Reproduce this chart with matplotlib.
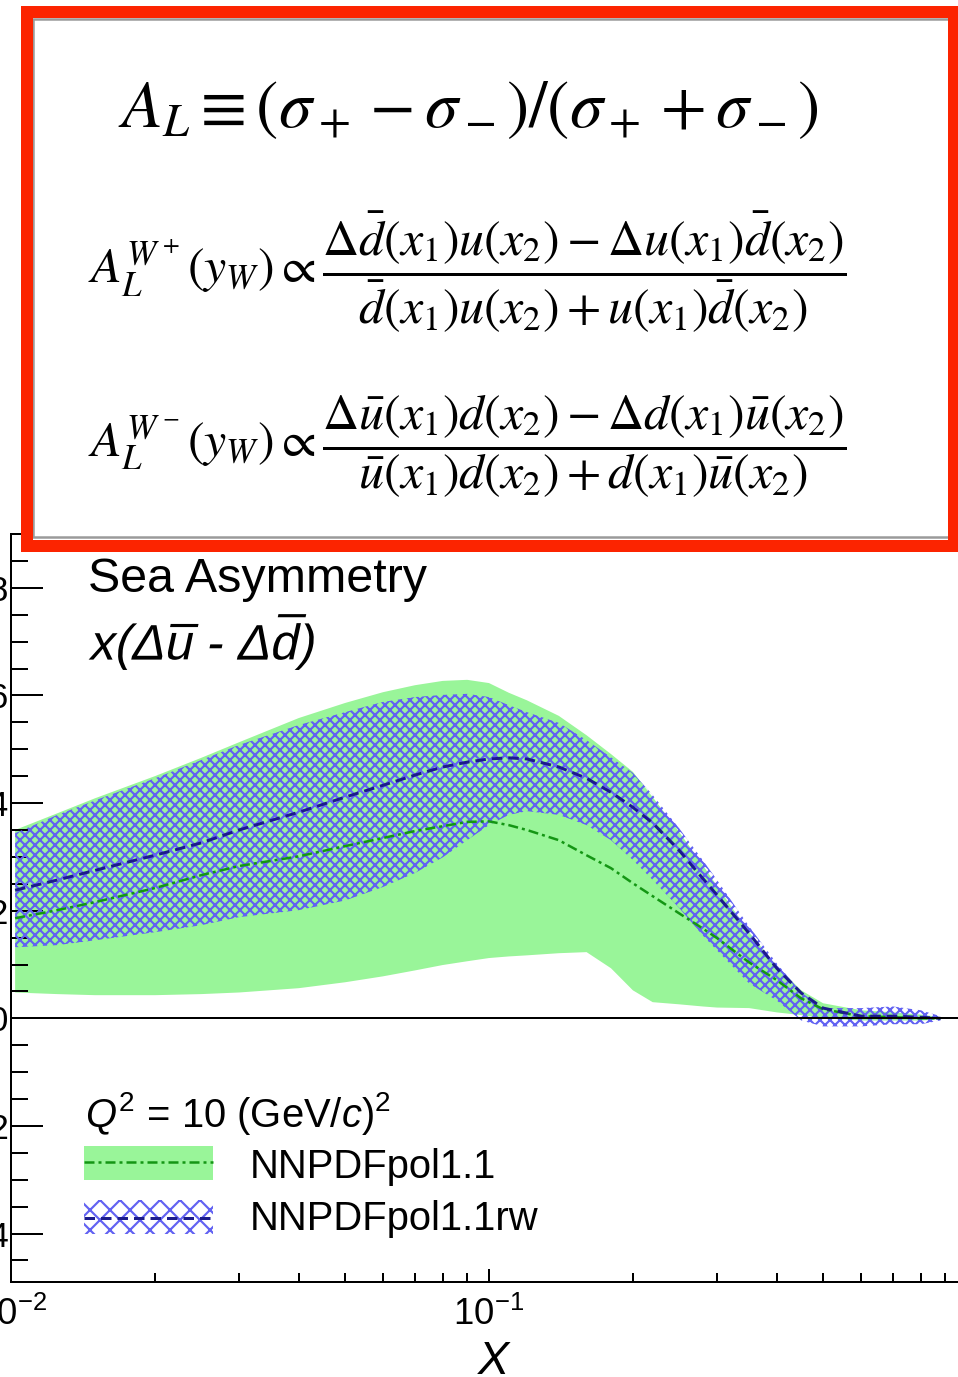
import numpy as np
import matplotlib
matplotlib.use("Agg")
import matplotlib.pyplot as plt
from matplotlib.patches import Rectangle, PathPatch
from matplotlib.lines import Line2D
from matplotlib.textpath import TextPath
from matplotlib.transforms import Affine2D
from matplotlib.ticker import LogLocator, MultipleLocator, FixedLocator

plt.rcParams['font.family'] = ['Liberation Sans', 'DejaVu Sans']
plt.rcParams['mathtext.fontset'] = 'custom'
plt.rcParams['mathtext.rm'] = 'Liberation Sans'
plt.rcParams['mathtext.it'] = 'Liberation Sans:italic'
plt.rcParams['mathtext.bf'] = 'Liberation Sans:bold'
plt.rcParams['hatch.linewidth'] = 1.3

# x(Δubar - Δdbar) at Q^2 = 10 GeV^2
x = [0.0102, 0.0125, 0.015, 0.02, 0.025, 0.03, 0.04, 0.05, 0.06, 0.07, 0.08, 0.09,
     0.1, 0.11, 0.12, 0.14, 0.16, 0.18, 0.2, 0.22, 0.25, 0.28, 0.3, 0.35, 0.4,
     0.45, 0.5, 0.6, 0.7, 0.8, 0.88]

# NNPDFpol1.1
pol_central = [0.0186, 0.0201, 0.0216, 0.0242, 0.0266, 0.0283, 0.0301, 0.0320, 0.0335,
               0.0348, 0.0357, 0.0365, 0.0366, 0.0359, 0.0350, 0.0331, 0.0303, 0.0279,
               0.0251, 0.0227, 0.0195, 0.0167, 0.0149, 0.0104, 0.0071, 0.0037, 0.0017,
               0.0004, 0.0002, 0.0, 0.0]
pol_upper = [0.0350, 0.0381, 0.0409, 0.0450, 0.0484, 0.0513, 0.0558, 0.0586, 0.0606,
             0.0619, 0.0627, 0.0629, 0.0623, 0.0605, 0.0591, 0.0562, 0.0526, 0.0491,
             0.0458, 0.0411, 0.0346, 0.0285, 0.0246, 0.0160, 0.0097, 0.0052, 0.0028,
             0.0015, 0.0011, 0.0007, 0.0002]
pol_lower = [0.0048, 0.0045, 0.0043, 0.0043, 0.0045, 0.0048, 0.0056, 0.0067, 0.0078,
             0.0089, 0.0099, 0.0106, 0.0112, 0.0115, 0.0117, 0.0121, 0.0123, 0.0093,
             0.0052, 0.0030, 0.0026, 0.0022, 0.0020, 0.0019, 0.0011, 0.0006, 0.0,
             -0.0004, -0.0004, -0.0004, -0.0002]

# NNPDFpol1.1rw (reweighted)
rw_central = [0.0238, 0.0257, 0.0275, 0.0303, 0.0326, 0.0350, 0.0383, 0.0411, 0.0433,
              0.0452, 0.0467, 0.0476, 0.0482, 0.0484, 0.0482, 0.0467, 0.0446, 0.0420,
              0.0392, 0.0363, 0.0312, 0.0260, 0.0229, 0.0158, 0.0093, 0.0047, 0.0019,
              0.0004, 0.0004, 0.0002, 0.0]
rw_upper = [0.0344, 0.0378, 0.0405, 0.0446, 0.0480, 0.0508, 0.0545, 0.0569, 0.0588,
            0.0597, 0.0601, 0.0603, 0.0597, 0.0582, 0.0569, 0.0549, 0.0517, 0.0485,
            0.0456, 0.0415, 0.0353, 0.0294, 0.0257, 0.0171, 0.0102, 0.0048, 0.0019,
            0.0019, 0.0022, 0.0015, 0.0004]
rw_lower = [0.0132, 0.0136, 0.0145, 0.0160, 0.0173, 0.0188, 0.0201, 0.0219, 0.0244,
            0.0270, 0.0299, 0.0331, 0.0359, 0.0378, 0.0385, 0.0378, 0.0359, 0.0331,
            0.0294, 0.0257, 0.0205, 0.0154, 0.0126, 0.0065, 0.0033, -0.0004, -0.0015,
            -0.0015, -0.0011, -0.0011, -0.0004]

labels = ['NNPDFpol1.1', 'NNPDFpol1.1rw']
x_labelled = [0.01, 0.1]

GREEN = '#99f599'
GREEN_LINE = '#149614'
BLUE = '#6262f2'
BLUE_LINE = '#1c1c8c'

W, H, DPI = 958, 1377, 120
fig = plt.figure(figsize=(W / DPI, H / DPI), dpi=DPI)


def fx(px):
    return px / W


def fy(py):
    return 1 - py / H


# axes placement in pixels (x: one decade = 478 px, 10^-1 at 489; y: 0 at 1018)
xmin, xmax = 0.01, 1.0
ymin, ymax = -0.049, 0.09
left_px = 489 + 478 * (np.log10(xmin) + 1)
right_px = 489 + 478 * (np.log10(xmax) + 1)
top_px, bottom_px = 534, 1282
ax = fig.add_axes([fx(left_px), fy(bottom_px), (right_px - left_px) / W,
                   (bottom_px - top_px) / H])

ax.fill_between(x, pol_lower, pol_upper, facecolor=GREEN, edgecolor='none', zorder=1)
ax.fill_between(x, rw_lower, rw_upper, facecolor='none', edgecolor=BLUE,
                hatch='xxxx', linewidth=0, zorder=2)
ax.plot(x, pol_central, color=GREEN_LINE, lw=1.5, ls=(0, (4, 1.6, 1.2, 1.6)), zorder=3)
ax.plot(x, rw_central, color=BLUE_LINE, lw=1.8, ls=(0, (3.5, 2)), zorder=3)
ax.axhline(0, color='black', lw=1.2, zorder=4)

ax.set_xscale('log')
ax.set_xlim(xmin, xmax)
ax.set_ylim(ymin, ymax)
ax.yaxis.set_major_locator(MultipleLocator(0.02))
ax.yaxis.set_minor_locator(MultipleLocator(0.005))
ax.yaxis.set_major_formatter(plt.FuncFormatter(lambda v, p: f'{v:.2f}'))
ax.xaxis.set_major_locator(FixedLocator(x_labelled))
ax.xaxis.set_minor_locator(LogLocator(base=10, subs=np.arange(2, 10), numticks=20))
ax.tick_params(axis='y', which='major', direction='in', length=19, width=1.2,
               labelsize=21, pad=1)
ax.tick_params(axis='y', which='minor', direction='in', length=10, width=1.2)
ax.tick_params(axis='x', which='major', direction='in', length=8, width=1.2,
               labelsize=22, pad=9)
ax.tick_params(axis='x', which='minor', direction='in', length=5.5, width=1.2)
for s in ['top', 'right']:
    ax.spines[s].set_visible(False)
for s in ['left', 'bottom']:
    ax.spines[s].set_linewidth(1.2)

fig.text(fx(493), fy(1340), 'X', fontsize=28, style='italic', ha='center', va='top')

# plot annotations
fig.text(fx(88), fy(592), 'Sea Asymmetry', fontsize=29, va='baseline')

# oblique sans label: text path sheared so brackets and Greek lean too
em_px = 30 * DPI / 72
tp = TextPath((0, 0), r'$\mathrm{x(\Delta\overline{u}\ \text{-}\ \Delta\overline{d})}$',
              size=em_px)
shear = Affine2D().skew_deg(12, 0).translate(88, H - 660)
fig.add_artist(PathPatch(tp, facecolor='black', edgecolor='none', transform=shear))

fig.text(fx(85), fy(1127), r'$Q^{2}$ = 10 (GeV/$c$)$^{2}$', fontsize=24, va='baseline')

# legend swatches
fig.add_artist(Rectangle((fx(84), fy(1180)), (213 - 84) / W, (1180 - 1146) / H,
                         facecolor=GREEN, edgecolor='none', transform=fig.transFigure))
fig.add_artist(Line2D([fx(84), fx(213)], [fy(1162), fy(1162)], color=GREEN_LINE,
                      lw=1.5, ls=(0, (4, 1.6, 1.2, 1.6)), transform=fig.transFigure))
fig.add_artist(Rectangle((fx(84), fy(1234)), (213 - 84) / W, (1234 - 1200) / H,
                         facecolor='none', edgecolor=BLUE, hatch='xx', linewidth=0,
                         transform=fig.transFigure))
fig.add_artist(Line2D([fx(84), fx(213)], [fy(1218), fy(1218)], color=BLUE_LINE,
                      lw=1.8, ls=(0, (3.5, 2)), transform=fig.transFigure))
fig.text(fx(250), fy(1178), labels[0], fontsize=24, va='baseline')
fig.text(fx(250), fy(1230), labels[1], fontsize=24, va='baseline')

# formula box
fig.add_artist(Rectangle((fx(26), fy(546)), (954 - 26) / W, (546 - 12) / H,
                         facecolor='white', edgecolor='none', transform=fig.transFigure))
fig.add_artist(Rectangle((fx(33), fy(537)), (949 - 33) / W, (537 - 19) / H,
                         facecolor='none', edgecolor='#9a9a9a', lw=1.5,
                         transform=fig.transFigure))
fig.add_artist(Rectangle((fx(26.5), fy(545.5)), (953.5 - 26.5) / W, (545.5 - 12) / H,
                         facecolor='none', edgecolor='#fc2400', lw=7.2,
                         transform=fig.transFigure))

fig.text(fx(118), fy(110), r'$A_L \equiv (\sigma_+ - \sigma_-)/(\sigma_+ + \sigma_-)$',
         fontsize=40, math_fontfamily='stix', va='center')
fig.text(fx(88), fy(272),
         r'$A_L^{W^+}(y_W) \propto \dfrac{\Delta\bar{d}(x_1)u(x_2) - \Delta u(x_1)\bar{d}(x_2)}'
         r'{\bar{d}(x_1)u(x_2) + u(x_1)\bar{d}(x_2)}$',
         fontsize=30, math_fontfamily='stix', va='center')
fig.text(fx(88), fy(446),
         r'$A_L^{W^-}(y_W) \propto \dfrac{\Delta\bar{u}(x_1)d(x_2) - \Delta d(x_1)\bar{u}(x_2)}'
         r'{\bar{u}(x_1)d(x_2) + d(x_1)\bar{u}(x_2)}$',
         fontsize=30, math_fontfamily='stix', va='center')

fig.savefig('out.png', dpi=DPI)
